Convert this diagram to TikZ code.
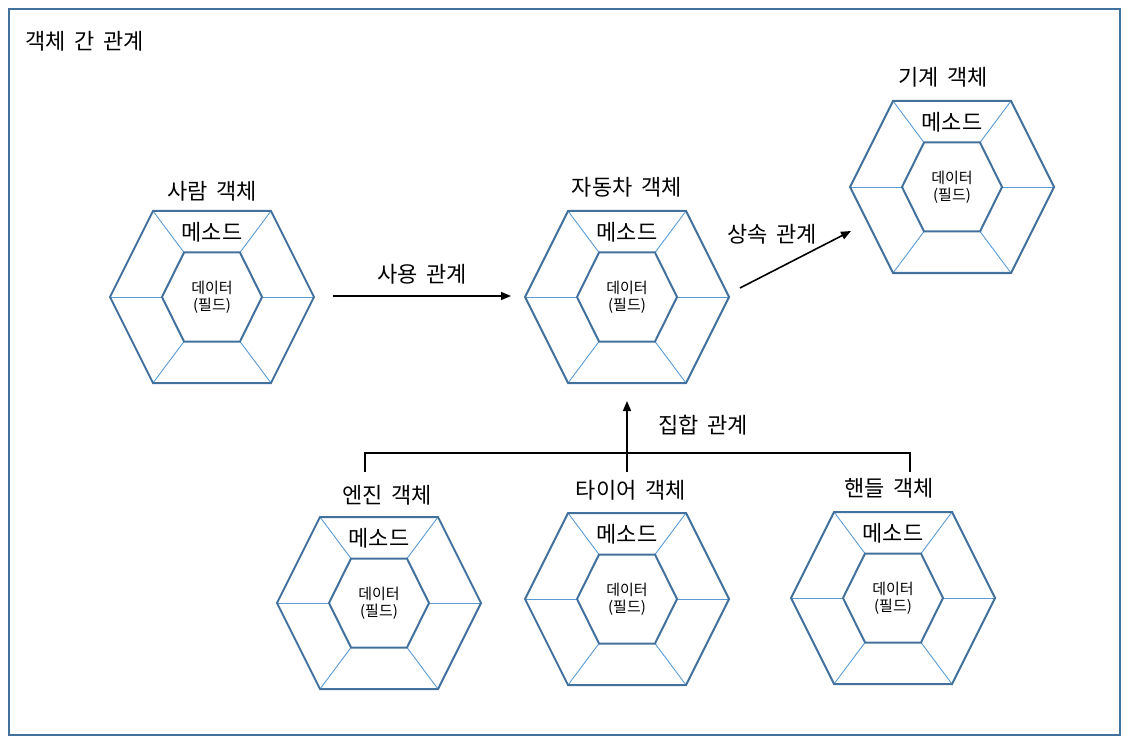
\documentclass[tikz,border=0pt]{standalone}
\usepackage{fontspec}
\setmainfont[WordSpace=1.8]{Noto Sans CJK KR}
\usetikzlibrary{arrows.meta}
\definecolor{hexdark}{HTML}{41719C}
\definecolor{hexlight}{HTML}{5B9BD5}
\tikzset{
  hexedge/.style={draw=hexdark, line width=2pt, line join=miter},
  hexspoke/.style={draw=hexlight, line width=0.9pt},
  bigtxt/.style={font=\fontsize{22}{25}\selectfont, inner sep=0pt},
  smalltxt/.style={font=\fontsize{15}{17}\selectfont, inner sep=0pt},
  rel/.style={draw=black, line width=1.6pt, -{Triangle[length=10pt,width=8pt]}},
  bracket/.style={draw=black, line width=1.6pt},
  hexobj/.pic={
    \coordinate (-c) at (0,0);
    \coordinate (-o1) at (-102,0); \coordinate (-o2) at (-59,-86);
    \coordinate (-o3) at (59,-86); \coordinate (-o4) at (102,0);
    \coordinate (-o5) at (59,86);  \coordinate (-o6) at (-59,86);
    \coordinate (-i1) at (-50,0); \coordinate (-i2) at (-28,-44.5);
    \coordinate (-i3) at (28,-44.5); \coordinate (-i4) at (50,0);
    \coordinate (-i5) at (28,44.5);  \coordinate (-i6) at (-28,44.5);
    \foreach \k in {1,...,6} {\draw[hexspoke] (-o\k) -- (-i\k);}
    \draw[hexedge] (-o1) -- (-o2) -- (-o3) -- (-o4) -- (-o5) -- (-o6) -- cycle;
    \draw[hexedge] (-i1) -- (-i2) -- (-i3) -- (-i4) -- (-i5) -- (-i6) -- cycle;
    \node[bigtxt] (-m) at (0,-65) {메소드};
    \node[smalltxt] (-d) at (0,-9) {데이터};
    \node[smalltxt] (-f) at (0,9) {(필드)};
  }
}
\begin{document}
\begin{tikzpicture}[x=1pt,y=-1pt]
\useasboundingbox (0,0) rectangle (1129,743);
\draw[draw=hexdark, line width=2pt] (9,9) rectangle (1120,735);
\node[bigtxt, anchor=west] (title) at (25,41) {객체 간 관계};

\pic (person) at (212,297) {hexobj};
\pic (car) at (627,297) {hexobj};
\pic (machine) at (952,187) {hexobj};
\pic (engine) at (379,603) {hexobj};
\pic (tire) at (627,599) {hexobj};
\pic (handle) at (893,598) {hexobj};

\node[bigtxt] (personT) at (212,191) {사람 객체};
\node[bigtxt] (carT) at (627,187) {자동차 객체};
\node[bigtxt] (machineT) at (943,77) {기계 객체};
\node[bigtxt] (engineT) at (387,495) {엔진 객체};
\node[bigtxt] (tireT) at (631,490) {타이어 객체};
\node[bigtxt] (handleT) at (889,488) {핸들 객체};

% use relation
\coordinate (useS) at (333,296);
\coordinate (useE) at (511,296);
\draw[rel] (useS) -- (useE);
\node[bigtxt] (useL) at (422,274) {사용 관계};

% inheritance
\coordinate (inhS) at (740,288);
\coordinate (inhE) at (851,231);
\draw[rel] (inhS) -- (inhE);
\node[bigtxt] (inhL) at (772,234) {상속 관계};

% aggregation
\coordinate (aggL) at (365,472);
\coordinate (aggM) at (627,472);
\coordinate (aggR) at (910,472);
\coordinate (aggT) at (627,401);
\draw[bracket] (aggL) -- (365,453) -- (910,453) -- (aggR);
\draw[rel] (aggM) -- (aggT);
\node[bigtxt] (aggLab) at (703,425) {집합 관계};
\end{tikzpicture}
\end{document}
